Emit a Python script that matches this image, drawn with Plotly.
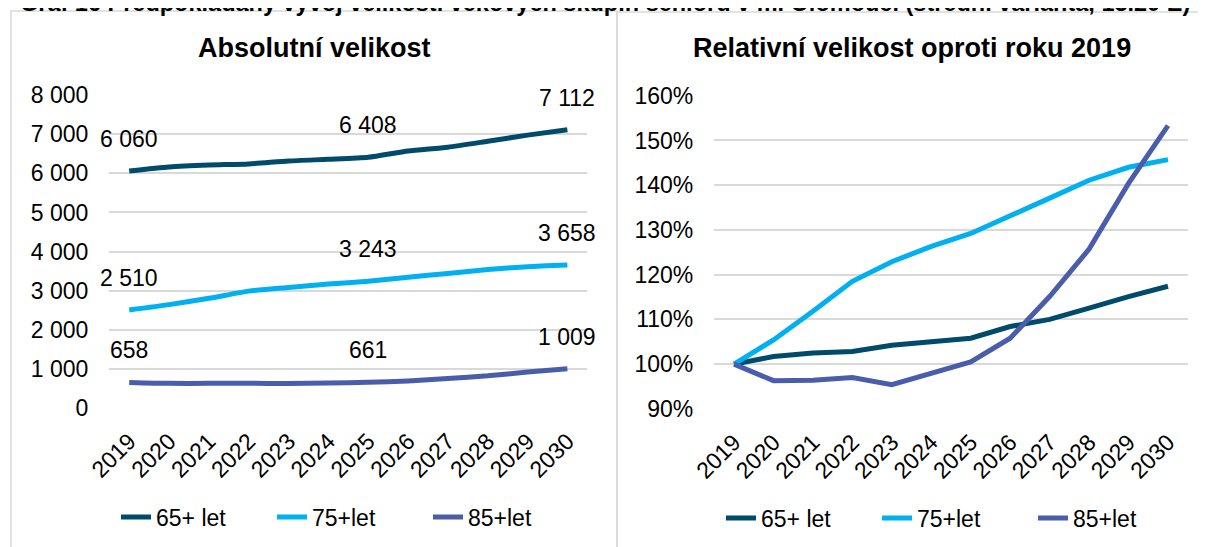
import plotly.graph_objects as go
from plotly.subplots import make_subplots

years = ["2019", "2020", "2021", "2022", "2023", "2024",
         "2025", "2026", "2027", "2028", "2029", "2030"]

# absolutni velikost (tis. osob)
abs_65 = [6060, 6163, 6212, 6240, 6315, 6357, 6408, 6569, 6666, 6818, 6975, 7112]
abs_75 = [2510, 2646, 2806, 2990, 3085, 3170, 3243, 3346, 3441, 3542, 3614, 3658]
abs_85 = [658, 634, 634, 638, 628, 645, 661, 696, 757, 827, 924, 1009]

# relativni velikost (2019 = 100 %)
rel_65 = [1.000, 1.017, 1.025, 1.028, 1.042, 1.049, 1.058, 1.084, 1.100, 1.125, 1.151, 1.174]
rel_75 = [1.000, 1.054, 1.118, 1.185, 1.229, 1.263, 1.292, 1.333, 1.371, 1.411, 1.440, 1.457]
rel_85 = [1.000, 0.963, 0.964, 0.970, 0.954, 0.980, 1.005, 1.058, 1.151, 1.257, 1.404, 1.533]

names = ["65+ let", "75+let", "85+let"]
colors = ["#004b6b", "#00b0f0", "#4a5dab"]
label_idx = [0, 6, 11]

W, H = 1206, 547
OFF = 8  # okraj stranky (body margin) v prohlizeci
FONT = "Arial, Liberation Sans, sans-serif"


def px(x):
    return (x - OFF) / W


def py(y):
    return 1 - (y - OFF) / H


fig = make_subplots(rows=1, cols=2)

for name, vals, col in zip(names, [abs_65, abs_75, abs_85], colors):
    fig.add_trace(go.Scatter(x=years, y=vals, name=name, mode="lines",
                             line=dict(color=col, width=5, shape="spline", smoothing=0.6),
                             legend="legend"), row=1, col=1)

for name, vals, col in zip(names, [rel_65, rel_75, rel_85], colors):
    fig.add_trace(go.Scatter(x=years, y=vals, name=name, mode="lines",
                             line=dict(color=col, width=5),
                             legend="legend2"), row=1, col=2)

axis_font = dict(family=FONT, size=23, color="#000000")
grid = "#d9d9d9"

fig.update_xaxes(type="category", range=[-0.5, 11.5], showgrid=False, zeroline=False,
                 showline=False, ticks="", tickangle=-45, tickfont=axis_font,
                 ticklabelstandoff=14, automargin=False)
fig.update_yaxes(showgrid=True, gridcolor=grid, gridwidth=1.5, zeroline=False,
                 showline=False, ticks="", tickfont=axis_font,
                 ticklabelstandoff=20, automargin=False)

fig.update_xaxes(domain=[px(109.3), px(587.3)], row=1, col=1)
fig.update_xaxes(domain=[px(714.3), px(1187.7)], row=1, col=2)
fig.update_yaxes(domain=[py(408.3), py(95)], range=[-3, 8000], tickvals=list(range(0, 8001, 1000)),
                 tickformat=",d", row=1, col=1)
fig.update_yaxes(domain=[py(409.3), py(95.7)], range=[0.899, 1.6], dtick=0.1,
                 tickformat=".0%", row=1, col=2)

legend_style = dict(orientation="h", yanchor="middle", xanchor="left",
                    font=dict(family=FONT, size=23, color="#000000"),
                    bgcolor="rgba(0,0,0,0)", entrywidth=111, itemwidth=30)

fig.update_layout(
    width=W, height=H,
    margin=dict(l=0, r=0, t=0, b=0, autoexpand=False),
    paper_bgcolor="white", plot_bgcolor="white",
    separators=", ",
    font=dict(family=FONT, color="#000000"),
    legend=dict(x=px(116), y=py(517), **legend_style),
    legend2=dict(x=px(721), y=py(518), **legend_style),
    shapes=[
        dict(type="rect", xref="paper", yref="paper", x0=px(11), x1=px(617),
             y0=-0.05, y1=py(11), line=dict(color=grid, width=1.5)),
        dict(type="rect", xref="paper", yref="paper", x0=px(617), x1=1.05,
             y0=-0.05, y1=py(12), line=dict(color=grid, width=1.5)),
    ],
)

# popisky hodnot 2019, 2025, 2030
for vals in [abs_65, abs_75, abs_85]:
    for i in label_idx:
        fig.add_annotation(x=i, y=vals[i], xref="x", yref="y",
                           text=f"{vals[i]:,}".replace(",", " "),
                           showarrow=False, yshift=32, xanchor="center", yanchor="middle",
                           font=dict(family=FONT, size=23, color="#000000"))

fig.add_annotation(x=px(314), y=py(48), xref="paper", yref="paper", showarrow=False,
                   xanchor="center", yanchor="middle",
                   text="<b>Absolutní velikost</b>",
                   font=dict(family=FONT, size=27, color="#000000"))
fig.add_annotation(x=px(912), y=py(48), xref="paper", yref="paper", showarrow=False,
                   xanchor="center", yanchor="middle",
                   text="<b>Relativní velikost oproti roku 2019</b>",
                   font=dict(family=FONT, size=27, color="#000000"))
# nadpis grafu, v podkladu oriznuty nahore
fig.add_annotation(x=px(605), y=py(3), xref="paper", yref="paper", showarrow=False,
                   xanchor="center", yanchor="middle",
                   text="<b>Graf 16 Předpokládaný vývoj velikosti věkových skupin seniorů v m. Olomouci (střední varianta, 13.20 E)</b>",
                   font=dict(family=FONT, size=23.5, color="#000000"))

fig.write_html("out.html")
